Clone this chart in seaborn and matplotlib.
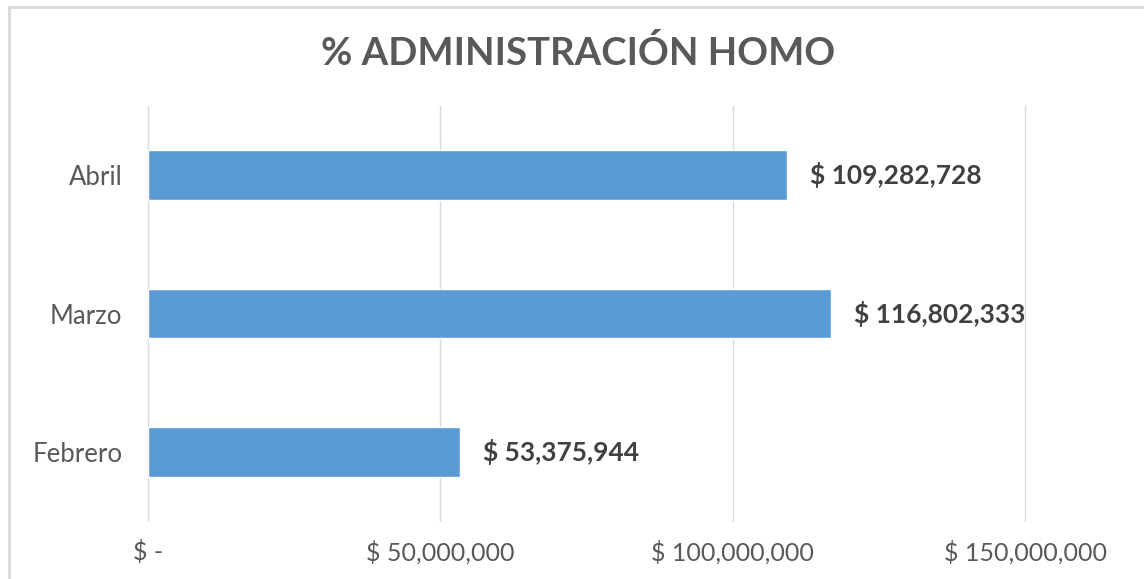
import matplotlib.pyplot as plt
import matplotlib.patches as mpatches
from matplotlib.ticker import FuncFormatter
import pandas as pd
import seaborn as sns

# Data
months = ['Abril', 'Marzo', 'Febrero']
values = [109282728, 116802333, 53375944]
x_ticks = [0, 50000000, 100000000, 150000000]

df = pd.DataFrame({'mes': months, 'valor': values})

sns.set_style('white')
plt.rcParams['font.family'] = ['Lato', 'DejaVu Sans']

fig = plt.figure(figsize=(11.44, 5.79), dpi=100)
ax = fig.add_axes([148 / 1144, 58 / 579, 877 / 1144, 415 / 579])

sns.barplot(data=df, x='valor', y='mes', order=months, orient='h',
            color='#5B9BD5', saturation=1, width=0.36, ax=ax, zorder=3)

ax.set_xlim(0, 150000000)
ax.set_xticks(x_ticks)


def money(v, pos=None):
    if v == 0:
        return '$ -'
    return '$ {:,.0f}'.format(v)


ax.xaxis.set_major_formatter(FuncFormatter(money))
ax.grid(axis='x', color='#D9D9D9', linewidth=1, zorder=0)
ax.grid(axis='y', visible=False)
for gl in ax.get_xgridlines():
    gl.set_clip_on(False)
for s in ax.spines.values():
    s.set_visible(False)
ax.tick_params(axis='x', length=0, pad=14, labelsize=18, labelcolor='#595959')
ax.tick_params(axis='y', length=0, pad=18.5, labelsize=18.5, labelcolor='#595959')
ax.set_xlabel('')
ax.set_ylabel('')

# Data labels
for i, v in enumerate(values):
    ax.annotate(money(v), xy=(v, i), xytext=(16.5, 0), textcoords='offset points',
                ha='left', va='center', fontsize=19, fontweight='bold', color='#404040')

fig.text(578 / 1144, 1 - 53 / 579, '% ADMINISTRACIÓN HOMO', ha='center', va='center',
         fontsize=27.5, fontweight='bold', color='#595959')

# Chart frame (partially cropped in the original)
frame = mpatches.Rectangle((9 / 1144, -0.1), 1.2, 1 - 7 / 579 + 0.1, transform=fig.transFigure,
                           fill=False, edgecolor='#D9D9D9', linewidth=2, clip_on=False)
fig.patches.append(frame)

fig.savefig('out.png', dpi=100)
